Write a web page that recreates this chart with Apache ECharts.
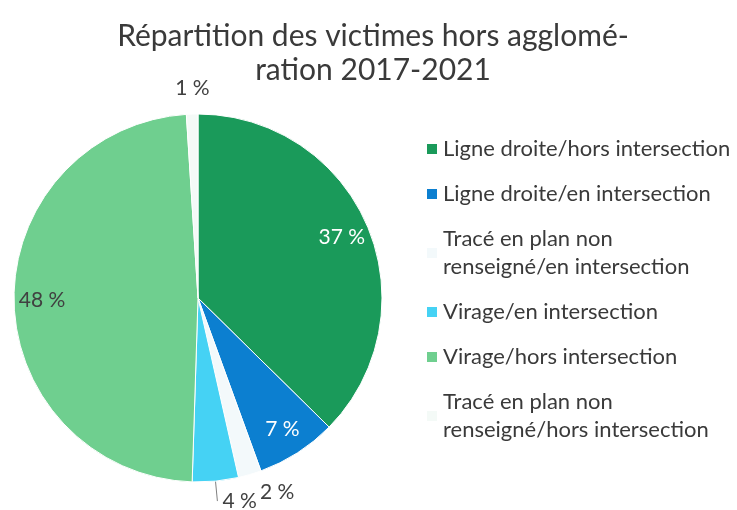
<!DOCTYPE html>
<html>
<head>
<meta charset="utf-8">
<script src="https://cdn.jsdelivr.net/npm/echarts@6/dist/echarts.min.js"></script>
<style>
  html, body { margin: 0; padding: 0; background: #fff; }
  #main { width: 737px; height: 510px; }
</style>
</head>
<body>
<div id="main"></div>
<script>
// categories in legend order (clockwise from 12 o'clock in the pie)
var categories = [
  'Ligne droite/hors intersection',
  'Ligne droite/en intersection',
  'Tracé en plan non\nrenseigné/en intersection',
  'Virage/en intersection',
  'Virage/hors intersection',
  'Tracé en plan non\nrenseigné/hors intersection'
];
var values = [37, 7, 2, 4, 48, 1];
var colors = ['#1a9a5a', '#0c7fd0', '#f3f9fb', '#45d2f4', '#6fcf8f', '#f4faf7'];
// which labels sit inside the slices
var insideLabel = [true, true, false, false, true, false];
var lineLength = [12, 12, 18, 20, 12, 26];

var chart = echarts.init(document.getElementById('main'));

var mainData = [];
var labelData = [];
for (var i = 0; i < categories.length; i++) {
  mainData.push({
    name: categories[i],
    value: values[i],
    itemStyle: { color: colors[i] },
    label: { show: !insideLabel[i] },
    labelLine: { show: i === 3, length: lineLength[i] }
  });
  labelData.push({
    name: categories[i],
    value: values[i],
    label: { show: insideLabel[i], color: i === 4 ? '#404040' : '#ffffff' }
  });
}

var option = {
  backgroundColor: '#fff',
  textStyle: { fontFamily: 'Lato' },
  title: {
    text: 'Répartition des victimes hors agglomé-\nration 2017-2021',
    left: 368,
    textAlign: 'center',
    top: 14,
    textStyle: {
      fontFamily: 'Lato',
      fontSize: 30,
      fontWeight: 'normal',
      color: '#3a3a3a',
      lineHeight: 34
    }
  },
  legend: {
    orient: 'vertical',
    left: 420,
    top: 130,
    icon: 'rect',
    itemWidth: 12,
    itemHeight: 12,
    itemGap: 17,
    selectedMode: false,
    data: categories,
    textStyle: {
      fontFamily: 'Lato',
      fontSize: 22,
      lineHeight: 28,
      color: '#3a3a3a'
    }
  },
  series: [
    {
      type: 'pie',
      center: [198, 298],
      radius: [0, 184],
      startAngle: 90,
      clockwise: true,
      animation: false,
      avoidLabelOverlap: false,
      itemStyle: { borderColor: '#fff', borderWidth: 1 },
      label: {
        position: 'outside',
        formatter: '{c} %',
        fontFamily: 'Lato',
        fontSize: 21,
        color: '#404040'
      },
      labelLine: {
        length: 12,
        length2: 0,
        lineStyle: { color: '#808080', width: 1 }
      },
      labelLayout: function (p) {
        if (p.dataIndex === 5) {
          return { align: 'center', dx: 6 };
        }
      },
      data: mainData
    },
    {
      // transparent ring only used to place the inside labels
      type: 'pie',
      center: [198, 298],
      radius: [122, 184],
      startAngle: 90,
      clockwise: true,
      animation: false,
      silent: true,
      itemStyle: { color: 'rgba(0,0,0,0)' },
      label: {
        position: 'inside',
        formatter: '{c} %',
        fontFamily: 'Lato',
        fontSize: 21
      },
      labelLine: { show: false },
      data: labelData
    }
  ]
};

chart.setOption(option);
</script>
</body>
</html>
